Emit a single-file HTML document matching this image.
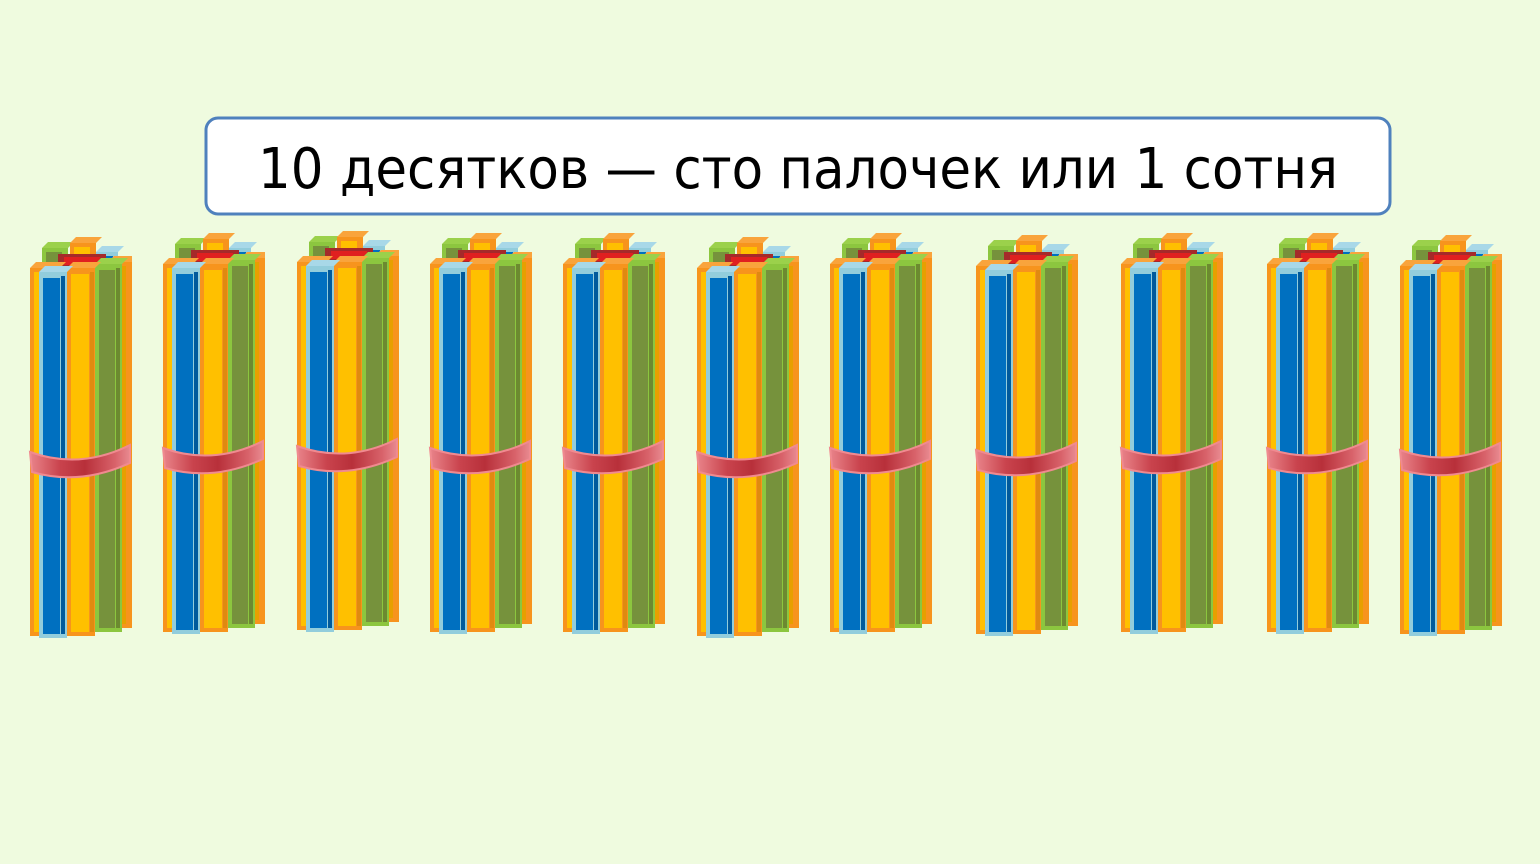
<!DOCTYPE html>
<html><head><meta charset="utf-8"><style>
html,body{margin:0;padding:0;background:#effbdf;}
svg{display:block}
</style></head><body>
<svg width="1540" height="864" viewBox="0 0 1540 864" xmlns="http://www.w3.org/2000/svg">
<defs>
<linearGradient id="rib" x1="0" x2="1" y1="0" y2="0">
<stop offset="0" stop-color="#e9848a"/><stop offset="0.3" stop-color="#c9434d"/><stop offset="0.55" stop-color="#b8303a"/><stop offset="0.85" stop-color="#d8626a"/><stop offset="1" stop-color="#e88a90"/>
</linearGradient>
<g id="b">
 <rect x="12" y="10" width="26" height="40" fill="#8cc63f"/><rect x="16" y="14" width="16" height="36" fill="#76923c"/>
 <polygon points="12,10 18,4 44,4 38,10" fill="#9bd14b"/>
 <rect x="40" y="5" width="26" height="40" fill="#f7941d"/><rect x="44" y="9" width="16" height="36" fill="#ffc000"/>
 <polygon points="40,5 46,-1 72,-1 66,5" fill="#f9a43c"/>
 <rect x="66" y="14" width="22" height="40" fill="#92cddc"/><rect x="70" y="18" width="13" height="36" fill="#0070c0"/>
 <polygon points="66,14 72,8 94,8 88,14" fill="#a8d8e8"/>
 <rect x="28" y="16" width="48" height="14" fill="#a52a2a"/><rect x="34" y="19" width="36" height="8" fill="#e02020"/>
 <rect x="0" y="30" width="30" height="368" fill="#f7941d"/><rect x="4" y="34" width="20" height="360" fill="#ffc000"/>
 <polygon points="0,30 6,24 36,24 30,30" fill="#f9a43c"/>
 <rect x="78" y="24" width="24" height="366" fill="#f7941d"/><rect x="82" y="28" width="14" height="358" fill="#e7a000"/>
 <polygon points="78,24 84,18 102,18 102,24" fill="#f9a43c"/>
 <rect x="65" y="26" width="27" height="368" fill="#8cc63f"/><rect x="69" y="32" width="16" height="358" fill="#76923c"/>
 <rect x="86" y="30" width="4" height="360" fill="#6c8a30"/>
 <polygon points="65,26 71,20 98,20 92,26" fill="#9bd14b"/>
 <rect x="37" y="30" width="28" height="368" fill="#f7941d"/><rect x="41" y="36" width="18" height="358" fill="#ffc000"/>
 <rect x="60" y="34" width="4" height="360" fill="#e08a10"/>
 <polygon points="37,30 43,24 71,24 65,30" fill="#f9a43c"/>
 <rect x="9" y="34" width="28" height="366" fill="#92cddc"/><rect x="13" y="40" width="17" height="356" fill="#0070c0"/>
 <rect x="31" y="38" width="4" height="358" fill="#005a9c"/>
 <polygon points="9,34 15,28 43,28 37,34" fill="#a8d8e8"/>
 <path d="M0,214 Q50,232 100,207 L100,225 Q50,248 2,234 Z" fill="url(#rib)" stroke="#f08a90" stroke-width="2"/>
</g>
</defs>
<rect x="206" y="118" width="1184" height="96" rx="12" fill="#fff" stroke="#4f81bd" stroke-width="3"/>
<text x="798" y="188" text-anchor="middle" font-family="'DejaVu Sans','Liberation Sans',sans-serif" font-size="56" fill="#000" textLength="1080" lengthAdjust="spacingAndGlyphs">10 десятков — сто палочек или 1 сотня</text>
<use href="#b" x="30" y="238"/>
<use href="#b" x="163" y="234"/>
<use href="#b" x="297" y="232"/>
<use href="#b" x="430" y="234"/>
<use href="#b" x="563" y="234"/>
<use href="#b" x="697" y="238"/>
<use href="#b" x="830" y="234"/>
<use href="#b" x="976" y="236"/>
<use href="#b" x="1121" y="234"/>
<use href="#b" x="1267" y="234"/>
<use href="#b" x="1400" y="236"/>
</svg>
</body></html>
